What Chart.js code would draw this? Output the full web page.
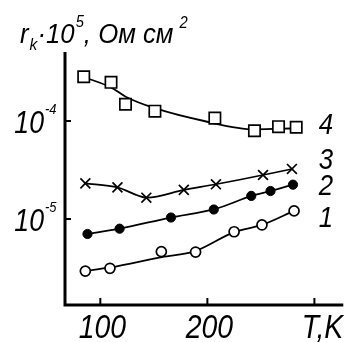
<!DOCTYPE html>
<html>
<head>
<meta charset="utf-8">
<script src="https://cdn.jsdelivr.net/npm/chart.js@4/dist/chart.umd.min.js"></script>
<style>
  html, body { margin: 0; padding: 0; background: #fff; }
  #wrap { width: 353px; height: 342px; }
</style>
</head>
<body>
<div id="wrap"><canvas id="chart"></canvas></div>
<script>
// measured points, T in K, r_k in Ohm cm^2 (as on the log axis)
const t1 = [86, 109, 157, 189, 225, 251, 281];
const r1 = [2.94e-6, 3.14e-6, 4.64e-6, 4.60e-6, 7.41e-6, 8.69e-6, 1.21e-5];
const t2 = [88, 118, 166, 206, 241, 259, 280];
const r2 = [7.03e-6, 7.96e-6, 1.035e-5, 1.25e-5, 1.72e-5, 1.93e-5, 2.24e-5];
const t3 = [86, 116, 143, 178, 208, 252, 279];
const r3 = [2.31e-5, 2.10e-5, 1.65e-5, 1.98e-5, 2.26e-5, 2.81e-5, 3.24e-5];
const t4 = [84.5, 110, 123.5, 151, 207, 244, 266.5, 283];
const r4 = [2.83e-4, 2.48e-4, 1.48e-4, 1.26e-4, 1.07e-4, 7.96e-5, 8.75e-5, 8.63e-5];

// fitted curves drawn in the picture (read off the curve, not the markers)
const fitT1 = [86, 109, 157.5, 188.6, 225, 251, 281];
const fitR1 = [2.94e-6, 3.20e-6, 4.09e-6, 4.71e-6, 7.36e-6, 8.69e-6, 1.21e-5];
const fitT4 = [84.5, 110, 123.7, 151, 197, 244, 283.6];
const fitR4 = [2.81e-4, 2.20e-4, 1.77e-4, 1.35e-4, 1.0e-4, 8.22e-5, 8.43e-5];

const seriesNames = ["1", "2", "3", "4"];
const xTicks = [100, 200, 300];
const xTickLabels = ["100", "200", "T,K"];
const yTicks = [1e-5, 1e-4];
const yTickExp = ["-5", "-4"];

const pts = (xs, ys) => xs.map((x, i) => ({ x, y: ys[i] }));

const FONT = '"Liberation Sans", Arial, sans-serif';

function txt(ctx, s, x, y, size, align, narrow = 0.86) {
  ctx.save();
  ctx.font = `italic ${size}px ${FONT}`;
  const w = ctx.measureText(s).width * narrow;
  let dx = 0;
  if (align === "center") dx = -w / 2;
  else if (align === "right") dx = -w;
  ctx.translate(x + dx, y);
  ctx.scale(narrow, 1);
  ctx.textAlign = "left";
  ctx.textBaseline = "alphabetic";
  ctx.fillStyle = "#000";
  ctx.fillText(s, 0, 0);
  ctx.restore();
  return w;
}

const decor = {
  id: "decor",
  beforeDatasetsDraw(chart) {
    const { ctx, chartArea: a, scales: { x, y } } = chart;
    ctx.save();
    ctx.strokeStyle = "#000";
    ctx.lineWidth = 3;
    ctx.beginPath();
    ctx.moveTo(a.left, a.top);
    ctx.lineTo(a.left, a.bottom);
    ctx.lineTo(a.right, a.bottom);
    ctx.stroke();
    ctx.lineWidth = 2;
    xTicks.forEach(v => {
      const px = x.getPixelForValue(v);
      ctx.beginPath();
      ctx.moveTo(px, a.bottom);
      ctx.lineTo(px, a.bottom - 7);
      ctx.stroke();
    });
    yTicks.forEach(v => {
      const py = y.getPixelForValue(v);
      ctx.beginPath();
      ctx.moveTo(a.left, py);
      ctx.lineTo(a.left + 6, py);
      ctx.stroke();
    });
    ctx.restore();
  },
  afterDraw(chart) {
    const { ctx, chartArea: a, scales: { x, y } } = chart;
    // x tick labels
    xTicks.forEach((v, i) => {
      if (xTickLabels[i] === "T,K") txt(ctx, "T,K", a.right, a.bottom + 33, 33, "right");
      else txt(ctx, xTickLabels[i], x.getPixelForValue(v) + 2, a.bottom + 33, 33, "center");
    });
    // y tick labels 10^n
    yTicks.forEach((v, i) => {
      const py = y.getPixelForValue(v);
      txt(ctx, "10", 44, py + 12, 31, "right");
      txt(ctx, yTickExp[i], 45, py - 7, 15, "left");
    });
    // axis title
    const n = 0.92;
    let cx = 20;
    cx += txt(ctx, "r", cx, 43, 28, "left", n) + 1;
    cx += txt(ctx, "k", cx, 50, 17, "left", n);
    cx += txt(ctx, "·10", cx, 43, 28, "left", n);
    cx += txt(ctx, "5", cx + 1, 27, 16, "left", n) + 1;
    cx += txt(ctx, ", Ом см", cx, 43, 28, "left", n) + 6;
    txt(ctx, "2", cx, 28, 16, "left", n);
    // curve numbers
    const lx = 326;
    const ly = [216, 184, 158, 123];
    seriesNames.forEach((s, i) => txt(ctx, s, lx, ly[i] + 11, 30, "center"));
  }
};

const line = { borderColor: "#000", borderWidth: 1.8, pointRadius: 0, showLine: true,
  cubicInterpolationMode: "monotone", fill: false, order: 2 };

new Chart(document.getElementById("chart"), {
  type: "scatter",
  data: {
    datasets: [
      { ...line, label: "fit1", data: pts(fitT1, fitR1) },
      { ...line, label: "fit4", data: pts(fitT4, fitR4) },
      { label: "1", data: pts(t1, r1), pointStyle: "circle", pointRadius: 5,
        backgroundColor: "#fff", borderColor: "#000", borderWidth: 1.7, order: 1 },
      { label: "2", data: pts(t2, r2), pointStyle: "circle", pointRadius: 4.6,
        backgroundColor: "#000", borderColor: "#000", borderWidth: 1.8,
        pointBorderWidth: 1, showLine: true, tension: 0.3, order: 1 },
      { label: "3", data: pts(t3, r3), pointStyle: "crossRot", pointRadius: 7,
        backgroundColor: "#000", borderColor: "#000", borderWidth: 1.7, showLine: true,
        tension: 0.3, order: 1 },
      { label: "4", data: pts(t4, r4), pointStyle: "rect", pointRadius: 8,
        backgroundColor: "#fff", borderColor: "#000", borderWidth: 1.7, order: 1 }
    ]
  },
  options: {
    responsive: true,
    maintainAspectRatio: false,
    animation: false,
    devicePixelRatio: 1,
    layout: { padding: { left: 65, top: 52, right: 3, bottom: 37 } },
    plugins: { legend: { display: false }, tooltip: { enabled: false } },
    scales: {
      x: { type: "linear", min: 67, max: 327, display: false },
      y: { type: "logarithmic", min: 1.325e-6, max: 5.06e-4, display: false }
    }
  },
  plugins: [decor]
});
</script>
</body>
</html>
